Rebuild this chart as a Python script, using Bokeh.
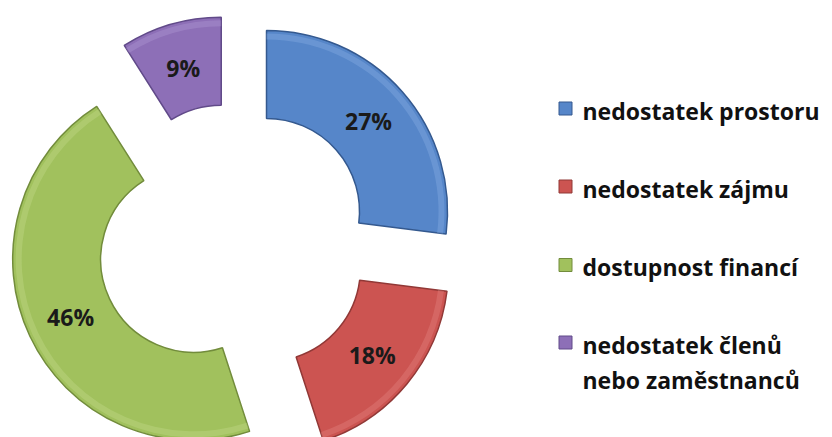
import numpy as np
from bokeh.plotting import figure
from bokeh.models import Range1d, ColumnDataSource
from bokeh.core.properties import value
from bokeh.embed import file_html
from bokeh.resources import INLINE

# ---- data ----
categories = ["nedostatek prostoru", "nedostatek zájmu", "dostupnost financí",
              "nedostatek členů nebo zaměstnanců"]
values = [27, 18, 46, 9]
labels = ["27%", "18%", "46%", "9%"]
legend_lines = [["nedostatek prostoru"], ["nedostatek zájmu"], ["dostupnost financí"],
                ["nedostatek členů", "nebo zaměstnanců"]]

# ---- style ----
colors = ["#5686C9", "#CC5451", "#A1C15D", "#8D6FB7"]
edge_colors = ["#34598F", "#913836", "#728C3C", "#614A89"]
light_colors = ["#8DB3E6", "#E58A87", "#C6DD8E", "#B49FD6"]

# ---- layout (pixel-like data units) ----
W, H = 832, 437
CX, CY = 233, 197
R_OUT, R_IN = 181, 93
EXPLODE = 44
LABEL_R = 136
LEG_SQ_X = 565
LEG_TX = 582
LEG_Y = [327, 249, 170.5, 93]
SQ_DY = 2
LINE_H = 35

vals = np.array(values, dtype=float)
frac = vals / vals.sum()
cum = np.cumsum(frac)
end = np.pi / 2 - 2 * np.pi * (cum - frac)
start = np.pi / 2 - 2 * np.pi * cum
mid = (start + end) / 2
xs = CX + EXPLODE * np.cos(mid)
ys = CY + EXPLODE * np.sin(mid)

src = ColumnDataSource(dict(x=xs, y=ys, start=start, end=end, color=colors,
                            edge=edge_colors, light=light_colors,
                            lx=xs + LABEL_R * np.cos(mid), ly=ys + LABEL_R * np.sin(mid),
                            label=labels))

p = figure(width=W, height=H, x_range=Range1d(0, W), y_range=Range1d(0, H),
           output_backend="svg", toolbar_location=None, min_border=0,
           x_axis_type=None, y_axis_type=None)
p.grid.visible = False
p.outline_line_color = None
p.background_fill_color = "white"

p.annular_wedge(x="x", y="y", inner_radius=R_IN, outer_radius=R_OUT,
                start_angle="start", end_angle="end", fill_color="color",
                line_color="edge", line_width=1.5, source=src)
# soft highlight along outer rim
p.annular_wedge(x="x", y="y", inner_radius=R_OUT - 9, outer_radius=R_OUT - 3,
                start_angle="start", end_angle="end", fill_color="light",
                fill_alpha=0.35, line_color=None, source=src)

p.text(x="lx", y="ly", text="label", source=src, text_align="center",
       text_baseline="middle", text_font=value("Open Sans"), text_font_size="23px",
       text_font_style="bold", text_color="#1a1a1a")

# legend
sq_x, sq_y, tx, ty, tt = [], [], [], [], []
for i, lines in enumerate(legend_lines):
    sq_x.append(LEG_SQ_X)
    sq_y.append(LEG_Y[i] + SQ_DY)
    for j, t in enumerate(lines):
        tx.append(LEG_TX)
        ty.append(LEG_Y[i] - j * LINE_H)
        tt.append(t)
p.scatter(x=sq_x, y=sq_y, marker="square", size=13, fill_color=colors,
          line_color=edge_colors, line_width=1)
p.text(x=tx, y=ty, text=tt, text_align="left", text_baseline="middle",
       text_font=value("Open Sans"), text_font_size="23px", text_font_style="bold",
       text_color="#111111")

open("out.html", "w").write(file_html(p, INLINE))
